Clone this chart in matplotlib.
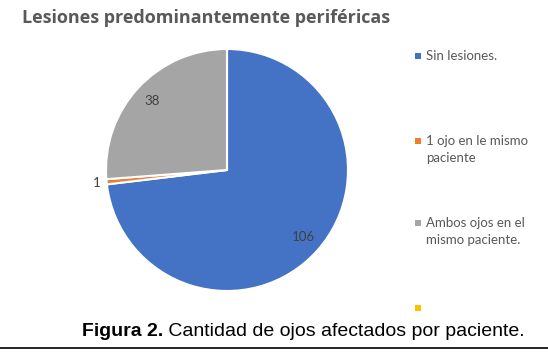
import matplotlib
matplotlib.use("Agg")
import matplotlib.pyplot as plt
import numpy as np
from matplotlib.lines import Line2D
from matplotlib.patches import Rectangle

# data
categories = ["Sin lesiones.", "1 ojo en le mismo\npaciente", "Ambos ojos en el\nmismo paciente.", ""]
values = [106, 1, 38, 0]
colors = ["#4472C4", "#ED7D31", "#A5A5A5", "#FFC000"]
title = "Lesiones predominantemente periféricas"
caption_bold = "Figura 2."
caption_rest = " Cantidad de ojos afectados por paciente."

W, H = 548, 353
fig = plt.figure(figsize=(W / 100, H / 100), dpi=100)
txt_color = "#595959"

# pie axes: centre (227,170) px, radius 121 px
cx, cy, r = 227, 170, 121
ax = fig.add_axes([(cx - r) / W, (H - cy - r) / H, 2 * r / W, 2 * r / H])
wedges, _ = ax.pie(values, colors=colors, startangle=90, counterclock=False,
                   wedgeprops=dict(edgecolor="white", linewidth=1.5))
ax.set_xlim(-1, 1)
ax.set_ylim(-1, 1)
ax.set_aspect("equal")
ax.axis("off")

for w, v in zip(wedges, values):
    if v == 0:
        continue
    mid = np.deg2rad((w.theta1 + w.theta2) / 2)
    d = 0.84 if v > 5 else 1.08
    ax.text(d * np.cos(mid), d * np.sin(mid), str(v), ha="center", va="center",
            fontsize=9.5, family="Lato", color="#404040")

# title
fig.text(22 / W, 1 - 18 / H, title, ha="left", va="center", fontsize=13,
         fontweight="bold", family="Open Sans", color=txt_color)

# legend
leg_y = [56, 141, 223, 308]
for lab, col, y in zip(categories, colors, leg_y):
    fig.add_artist(Rectangle((415 / W, 1 - (y + 3) / H), 6 / W, 6 / H,
                             transform=fig.transFigure, facecolor=col, edgecolor="none"))
    if lab:
        fig.text(426 / W, 1 - (y - 6) / H, lab, ha="left", va="top", fontsize=9.5,
                 family="Lato", color=txt_color, linespacing=1.5)

# caption
renderer = fig.canvas.get_renderer()
t1 = fig.text(82 / W, 1 - 332 / H, caption_bold, ha="left", va="center", fontsize=14,
              fontweight="bold", family="Liberation Sans", color="black")
bb = t1.get_window_extent(renderer)
fig.text(bb.x1 / W, 1 - 332 / H, caption_rest, ha="left", va="center", fontsize=14,
         family="Liberation Sans", color="black")

fig.add_artist(Line2D([0, 1], [1 - 348 / H, 1 - 348 / H], color="black", linewidth=1.2,
                      transform=fig.transFigure))

fig.savefig("out.png", dpi=100)
